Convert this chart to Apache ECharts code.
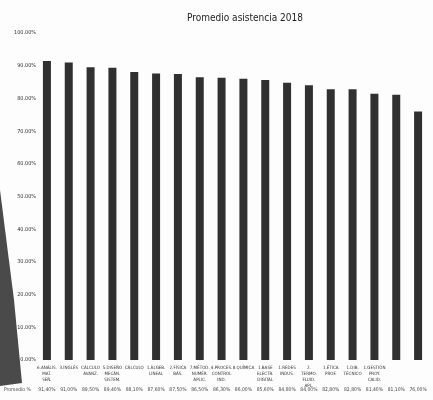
<!DOCTYPE html>
<html><head><meta charset="utf-8">
<script src="https://cdn.jsdelivr.net/npm/echarts@6/dist/echarts.min.js"></script>
<style>html,body{margin:0;padding:0;background:#fdfdfd}#c{width:433px;height:400px}</style>
</head><body><div id="c"></div>
<script>
var titleText = 'Promedio asistencia 2018';
var categories = [
  '6.ANÁLIS.\nMAT.\nSEÑ.', '3.INGLÉS', 'CÁLCULO\nAVANZ.', '5.DISEÑO\nMECÁN.\nSISTEM.',
  'CÁLCULO', '1.ÁLGEB.\nLINEAL', '2.FÍSICA\nBÁS.', '7.MÉTOD.\nNUMÉR.\nAPLIC.',
  '4.PROCES.\nCONTROL\nIND.', '8.QUÍMICA', '1.BASE\nELECTR.\nDIGITAL', '1.REDES\nINDUS.',
  '2.\nTERMO.\nFLUID.\nAPL.', '1.ÉTICA\nPROF.', '1.DIB.\nTÉCNICO', '1.GESTIÓN\nPROY.\nCALID.',
  '', ''
];
var values = [91.4, 91.0, 89.5, 89.4, 88.1, 87.6, 87.5, 86.5, 86.3, 86.0, 85.6, 84.8, 84.0, 82.8, 82.8, 81.4, 81.1, 76.0];
var yTicks = [0, 10, 20, 30, 40, 50, 60, 70, 80, 90, 100];
var rowHeader = 'Promedio %';

function pct(v) { return v.toFixed(2).replace('.', ',') + '%'; }

var chart = echarts.init(document.getElementById('c'));
var font = "'DejaVu Sans Condensed','Liberation Sans Narrow',sans-serif";
chart.setOption({
  backgroundColor: '#fdfdfd',
  animation: false,
  title: { text: titleText, left: 240, top: 8, textAlign: 'center',
    textStyle: { fontFamily: font, fontSize: 10, fontWeight: 'normal', color: '#222' } },
  grid: { left: 36, right: 4, top: 33, bottom: 40, containLabel: false },
  xAxis: [{
    type: 'category', data: categories, position: 'bottom',
    axisLine: { show: false }, axisTick: { show: false },
    axisLabel: { interval: 0, fontFamily: font, fontSize: 4.5, lineHeight: 6, color: '#333', margin: 5 }
  }, {
    type: 'category', data: categories, position: 'bottom', offset: 27,
    axisLine: { show: false }, axisTick: { show: false },
    axisLabel: { interval: 0, fontFamily: font, fontSize: 5, color: '#444', margin: 0,
      formatter: function (v, i) { return pct(values[i]); } }
  }],
  yAxis: {
    type: 'value', min: yTicks[0], max: yTicks[yTicks.length - 1], interval: 10,
    splitLine: { show: false }, axisLine: { show: false }, axisTick: { show: false },
    axisLabel: { fontFamily: font, fontSize: 5.5, color: '#333', margin: 0,
      formatter: function (v) { return v.toFixed(2) + '%'; } }
  },
  series: [{
    type: 'bar', data: values, barWidth: 8,
    itemStyle: { color: '#303030' }
  }],
  graphic: [
    { type: 'polygon', z: -1, shape: { points: [[0, 190], [14, 300], [22, 383], [0, 386]] },
      style: { fill: '#4a4a4a' } },
    { type: 'text', left: 4, top: 387, style: { text: rowHeader, font: '5px ' + font, fill: '#444' } }
  ]
});
</script></body></html>
